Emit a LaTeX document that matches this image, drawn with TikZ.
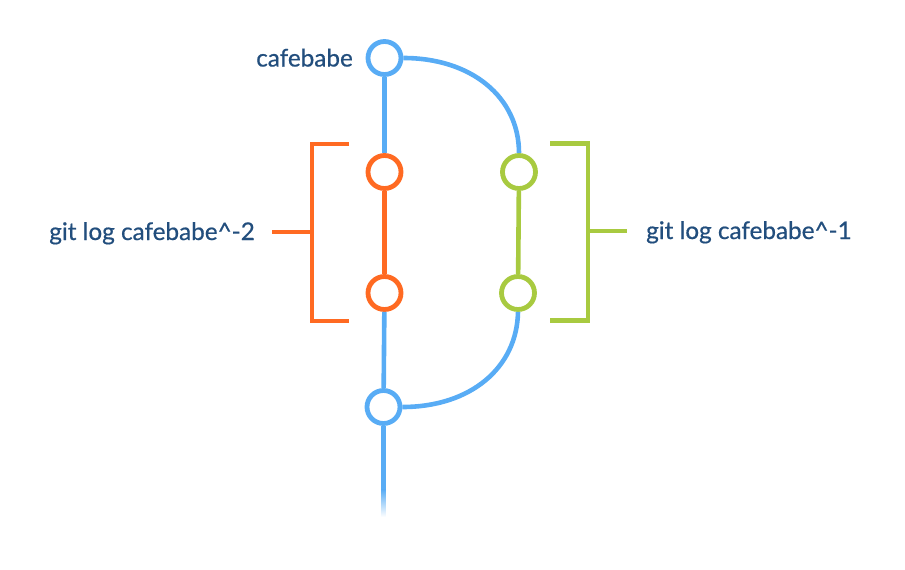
\documentclass[tikz,border=0pt]{standalone}
\usepackage{fontspec}
\setmainfont{Lato}
\newfontfamily\lblfont{Lato}[FakeBold=0.6]
\definecolor{cblue}{RGB}{88,172,245}
\definecolor{corange}{RGB}{255,106,34}
\definecolor{cgreen}{RGB}{168,202,64}
\definecolor{ctext}{RGB}{34,78,125}
\begin{document}
\begin{tikzpicture}[x=1pt,y=-1pt,
  commit/.style={circle,draw=#1,line width=4.8pt,fill=white,minimum size=33pt,inner sep=0pt},
  link/.style={line width=4.6pt,draw=#1},
  bracket/.style={line width=4.6pt,draw=#1},
  lbl/.style={text=ctext,font=\lblfont\fontsize{24.3}{28}\selectfont,inner sep=0pt}]
\useasboundingbox (0,0) rectangle (905,570);
% commits
\node[commit=cblue] (top) at (384.5,58) {};
\node[commit=corange] (o1) at (384.5,172) {};
\node[commit=corange] (o2) at (384.5,293) {};
\node[commit=cgreen] (g1) at (519,172) {};
\node[commit=cgreen] (g2) at (518,293) {};
\node[commit=cblue] (bot) at (383.5,407) {};
\coordinate (fadestart) at (383.5,490);
% connectors
\draw[link=cblue] (top) -- (o1);
\draw[link=corange] (o1) -- (o2);
\draw[link=cblue] (o2) -- (bot);
\draw[link=cgreen] (g1) -- (g2);
\draw[link=cblue] (top.east) .. controls ++(68,0) and ++(0,-56) .. (g1.north);
\draw[link=cblue] (g2.south) .. controls ++(-1,56) and ++(68,0) .. (bot.east);
\draw[link=cblue] (bot) -- (fadestart);
\shade[top color=cblue,bottom color=white] (381.2,489.5) rectangle (385.8,517);
% brackets
\draw[bracket=corange] (349,144) -- (312,144) -- (312,321) -- (349,321);
\draw[bracket=corange] (272,232) -- (312,232);
\draw[bracket=cgreen] (550,143.5) -- (588,143.5) -- (588,320.5) -- (550,320.5);
\draw[bracket=cgreen] (588,231) -- (627,231);
% labels
\node[lbl,anchor=base east] (ltop) at (353,66.5) {cafebabe};
\node[lbl,anchor=base east] (lleft) at (255,240) {git log cafebabe\textasciicircum-2};
\node[lbl,anchor=base west] (lright) at (646,239) {git log cafebabe\textasciicircum-1};
\end{tikzpicture}
\end{document}
